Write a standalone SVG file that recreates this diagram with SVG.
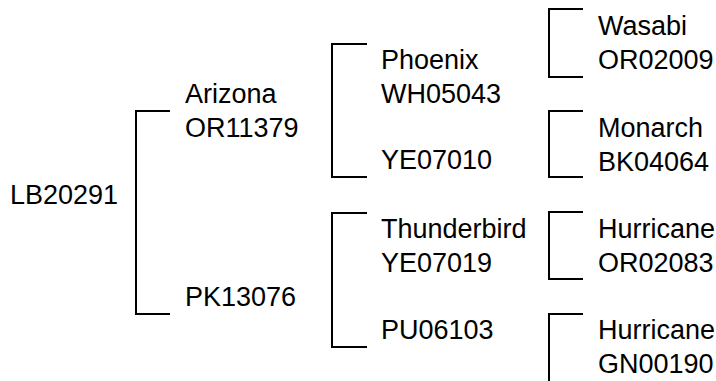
<svg xmlns="http://www.w3.org/2000/svg" width="716" height="381" viewBox="0 0 716 381">
<style>
text{font-family:"Liberation Sans",Arial,sans-serif;font-size:27px;fill:#000}
.c{fill:none;stroke:#000;stroke-width:2}
</style>
<rect width="716" height="381" fill="#fff"/>
<g id="connectors">
<path class="c" d="M170,111H136V314H170"/>
<path class="c" d="M367,44H332V177H367"/>
<path class="c" d="M367,213H332V347H367"/>
<path class="c" d="M583,9H549V77H583"/>
<path class="c" d="M583,111H549V177H583"/>
<path class="c" d="M583,212H549V279H583"/>
<path class="c" d="M583,314H549V390"/>
</g>
<g id="n_LB20291"><text x="10" y="204">LB20291</text></g>
<g id="n_OR11379"><text x="185" y="103">Arizona</text><text x="185" y="137">OR11379</text></g>
<g id="n_PK13076"><text x="185" y="306">PK13076</text></g>
<g id="n_WH05043"><text x="381" y="69">Phoenix</text><text x="381" y="103">WH05043</text></g>
<g id="n_YE07010"><text x="381" y="169">YE07010</text></g>
<g id="n_YE07019"><text x="381" y="238">Thunderbird</text><text x="381" y="272">YE07019</text></g>
<g id="n_PU06103"><text x="381" y="339">PU06103</text></g>
<g id="n_OR02009"><text x="598" y="35">Wasabi</text><text x="598" y="69">OR02009</text></g>
<g id="n_BK04064"><text x="598" y="137">Monarch</text><text x="598" y="171">BK04064</text></g>
<g id="n_OR02083"><text x="598" y="238">Hurricane</text><text x="598" y="272">OR02083</text></g>
<g id="n_GN00190"><text x="598" y="339">Hurricane</text><text x="598" y="373">GN00190</text></g>
</svg>
